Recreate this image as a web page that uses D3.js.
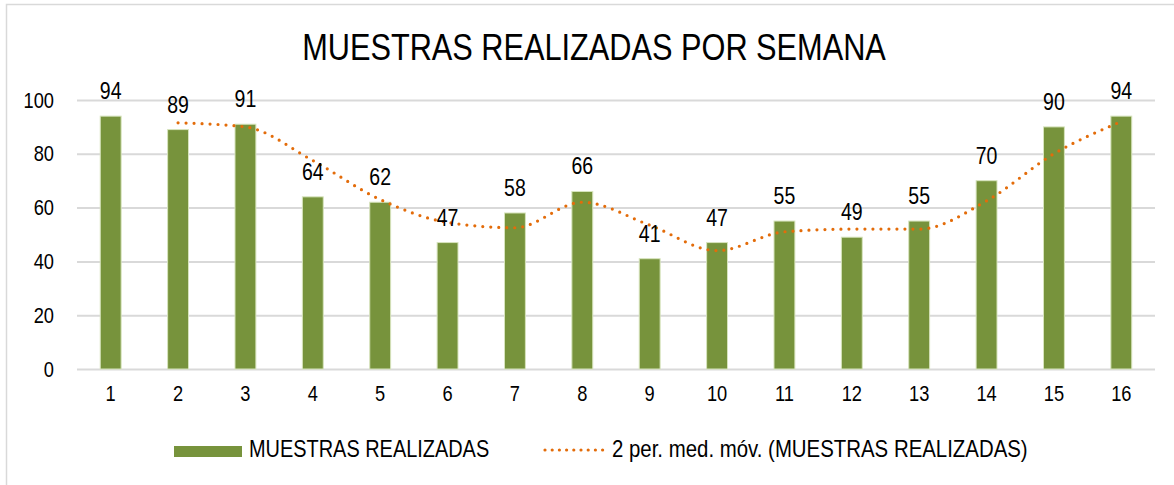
<!DOCTYPE html>
<html lang="es">
<head>
<meta charset="UTF-8">
<title>Muestras realizadas por semana</title>
<script src="https://cdn.jsdelivr.net/npm/d3@7"></script>
<style>
    html, body { margin: 0; background: #fff; }
    svg { display: block; font-family: "Liberation Sans Narrow", "Arial Narrow", "Liberation Sans", sans-serif; }
</style>
</head>
<body>
<svg id="chart" width="1174" height="485"></svg>
<script>
    // datos
    const semanas = ['1','2','3','4','5','6','7','8','9','10','11','12','13','14','15','16'];
    const muestras = [94, 89, 91, 64, 62, 47, 58, 66, 41, 47, 55, 49, 55, 70, 90, 94];
    // media móvil de 2 periodos (empieza en la semana 2)
    const mediaSemanas = ['2','3','4','5','6','7','8','9','10','11','12','13','14','15','16'];
    const mediaMovil = [91.5, 90, 77.5, 63, 54.5, 52.5, 62, 53.5, 44, 51, 52, 52, 62.5, 80, 92];
    const yTicks = [0, 20, 40, 60, 80, 100];

    const titulo = 'MUESTRAS REALIZADAS POR SEMANA';
    const serieNombre = 'MUESTRAS REALIZADAS';
    const mediaNombre = '2 per. med. móv. (MUESTRAS REALIZADAS)';

    const green = '#77933C';
    const orange = '#E36C0A';
    const grid = '#D9D9D9';

    const svg = d3.select('#chart');
    const width = +svg.attr('width');
    const height = +svg.attr('height');

    // no hay Arial Narrow: se estrecha el texto normal
    function narrow(sel, k = 0.83) {
        sel.each(function () {
            const len = this.getComputedTextLength();
            d3.select(this)
                .attr('textLength', len * k)
                .attr('lengthAdjust', 'spacingAndGlyphs');
        });
    }

    // marco exterior
    svg.append('rect')
        .attr('x', 6.5).attr('y', 4.5)
        .attr('width', width + 10).attr('height', height + 10)
        .attr('fill', 'none').attr('stroke', grid).attr('stroke-width', 1.5);

    const x = d3.scaleBand()
        .domain(semanas)
        .range([77, 1155])
        .paddingInner(0.69)
        .paddingOuter(0.345);

    const y = d3.scaleLinear()
        .domain([0, 100])
        .range([369, 100]);

    svg.append('text')
        .attr('x', 594).attr('y', 60)
        .attr('text-anchor', 'middle')
        .style('font-size', '37px')
        .attr('fill', '#000')
        .text(titulo)
        .call(narrow);

    // líneas de cuadrícula + etiquetas del eje Y
    const yAxis = svg.append('g')
        .attr('transform', 'translate(77,0)')
        .call(d3.axisLeft(y).tickValues(yTicks).tickSize(-(1155 - 77)).tickPadding(23));
    yAxis.select('.domain').remove();
    yAxis.selectAll('.tick line').attr('stroke', grid).attr('stroke-width', 2);
    yAxis.selectAll('.tick text')
        .style('font-size', '22px')
        .style('font-family', 'inherit')
        .attr('fill', '#000')
        .call(narrow);

    // eje X
    const xAxis = svg.append('g')
        .attr('transform', 'translate(0,369)')
        .call(d3.axisBottom(x).tickSize(0).tickPadding(16));
    xAxis.select('.domain').remove();
    xAxis.selectAll('.tick text')
        .style('font-size', '22px')
        .style('font-family', 'inherit')
        .attr('fill', '#000')
        .call(narrow);

    // barras
    svg.append('g').selectAll('rect')
        .data(muestras)
        .join('rect')
        .attr('x', (d, i) => x(semanas[i]))
        .attr('y', d => y(d))
        .attr('width', x.bandwidth())
        .attr('height', d => y(0) - y(d))
        .attr('fill', green)
        .attr('stroke', '#D7E4BD')
        .attr('stroke-width', 1);

    // media móvil
    const line = d3.line()
        .x((d, i) => x(mediaSemanas[i]) + x.bandwidth() / 2)
        .y(d => y(d))
        .curve(d3.curveMonotoneX);

    svg.append('path')
        .datum(mediaMovil)
        .attr('d', line)
        .attr('fill', 'none')
        .attr('stroke', orange)
        .attr('stroke-width', 3.2)
        .attr('stroke-linecap', 'round')
        .attr('stroke-dasharray', '0 8');

    // etiquetas de datos
    svg.append('g').selectAll('text')
        .data(muestras)
        .join('text')
        .attr('x', (d, i) => x(semanas[i]) + x.bandwidth() / 2)
        .attr('y', d => y(d) - 17)
        .attr('text-anchor', 'middle')
        .style('font-size', '23.5px')
        .attr('fill', '#000')
        .text(d => d)
        .call(narrow);

    // leyenda
    const leg = svg.append('g');
    leg.append('rect')
        .attr('x', 174).attr('y', 446)
        .attr('width', 68).attr('height', 11)
        .attr('fill', green);
    leg.append('text')
        .attr('x', 249).attr('y', 449)
        .attr('dy', '0.35em')
        .style('font-size', '24px')
        .text(serieNombre)
        .call(narrow);
    leg.append('line')
        .attr('x1', 545).attr('x2', 603)
        .attr('y1', 450).attr('y2', 450)
        .attr('stroke', orange)
        .attr('stroke-width', 3.2)
        .attr('stroke-linecap', 'round')
        .attr('stroke-dasharray', '0 7.2');
    leg.append('text')
        .attr('x', 612).attr('y', 449)
        .attr('dy', '0.35em')
        .style('font-size', '24px')
        .text(mediaNombre)
        .call(narrow, 0.85);
</script>
</body>
</html>
